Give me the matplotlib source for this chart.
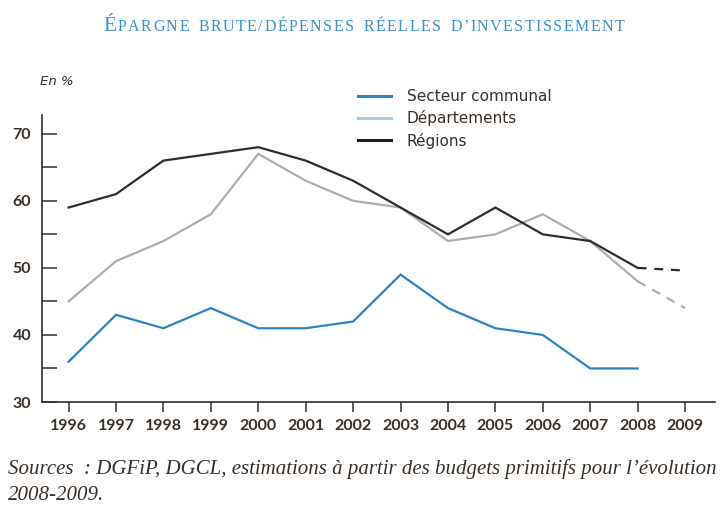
import matplotlib
matplotlib.use("Agg")
import matplotlib.pyplot as plt
from matplotlib.ticker import MultipleLocator
from matplotlib.lines import Line2D

years = [1996, 1997, 1998, 1999, 2000, 2001, 2002, 2003, 2004, 2005, 2006, 2007, 2008]
communal = [36, 43, 41, 44, 41, 41, 42, 49, 44, 41, 40, 35, 35]
departements = [45, 51, 54, 58, 67, 63, 60, 59, 54, 55, 58, 54, 48]
regions = [59, 61, 66, 67, 68, 66, 63, 59, 55, 59, 55, 54, 50]
est_years = [2008, 2009]
departements_est = [48, 44]
regions_est = [50, 49.6]
xtick_labels = [str(y) for y in range(1996, 2010)]
ytick_values = [30, 40, 50, 60, 70]
series_names = ["Secteur communal", "Départements", "Régions"]

BLUE = "#2b84c6"
GREY = "#adadad"
LEG_GREY = "#a7c6e4"
BLACK = "#2e2e2e"
TXT = "#3a3028"
TITLE_C = "#3d8fd0"

plt.rcParams["font.family"] = ["DejaVu Sans"]

fig = plt.figure(figsize=(7.2, 5.08), dpi=100)
ax = fig.add_axes([41.5/720, 1-402/508, (715-41.5)/720, (402-115)/508])

ax.plot(years, communal, color=BLUE, lw=1.6, solid_joinstyle="miter")
ax.plot(years, departements, color=GREY, lw=1.6, solid_joinstyle="miter")
ax.plot(years, regions, color=BLACK, lw=1.6, solid_joinstyle="miter")
ax.plot(est_years, departements_est, color=GREY, lw=1.6, ls=(0, (4, 3.5)))
ax.plot(est_years, regions_est, color=BLACK, lw=1.6, ls=(0, (4, 3.5)))

ax.set_xlim(1995.43, 2009.63)
ax.set_ylim(30, 72.8)

for s in ["top", "right"]:
    ax.spines[s].set_visible(False)
for s in ["left", "bottom"]:
    ax.spines[s].set_color(BLACK)
    ax.spines[s].set_linewidth(1.2)

ax.set_yticks(ytick_values)
ax.set_yticklabels([str(v) for v in ytick_values])
ax.yaxis.set_minor_locator(MultipleLocator(5))
ax.tick_params(axis="y", which="both", direction="in", length=11, width=1.1, color=BLACK,
               labelsize=11.5, labelcolor=TXT, pad=7.5)
ax.set_xticks(list(range(1996, 2010)))
ax.set_xticklabels(xtick_labels)
ax.tick_params(axis="x", direction="out", length=7, width=1.1, color=BLACK,
               labelsize=11.5, labelcolor=TXT, pad=5)
for lab in ax.get_xticklabels() + ax.get_yticklabels():
    lab.set_fontweight("bold")
    lab.set_family(["Lato", "DejaVu Sans"])

handles = [Line2D([], [], color=BLUE, lw=2.2),
           Line2D([], [], color=LEG_GREY, lw=2.2),
           Line2D([], [], color="#1e1e1e", lw=2.2)]
fig.legend(handles, series_names, loc="upper left", bbox_to_anchor=(358/720, 1-89/508),
           bbox_transform=fig.transFigure, frameon=False, borderpad=0, borderaxespad=0,
           fontsize=11, handlelength=2.15, handletextpad=1.05, labelspacing=0.42,
           labelcolor=TXT)

fig.text(40/720, 1-82/508, "En %", fontsize=9.5, style="italic", color=TXT, va="center")

# Title in small caps, with letter spacing
fig.canvas.draw()
renderer = fig.canvas.get_renderer()
ty = 1 - 31/508
x = 103
spacing = 1.5
t = fig.text(x/720, ty, "É", fontsize=15.5, color=TITLE_C, va="baseline",
             family=["Liberation Serif", "DejaVu Serif"])
x = t.get_window_extent(renderer).x1 + spacing
for ch in "PARGNE BRUTE/DÉPENSES RÉELLES D’INVESTISSEMENT":
    if ch == " ":
        x += 8
        continue
    t = fig.text(x/720, ty, ch, fontsize=11.5, color=TITLE_C, va="baseline",
                 family=["Liberation Serif", "DejaVu Serif"])
    x = t.get_window_extent(renderer).x1 + spacing

fig.text(8/720, 1-474/508, "Sources  : DGFiP, DGCL, estimations à partir des budgets primitifs pour l’évolution",
         fontsize=15, style="italic", color=TXT, va="baseline", family=["Liberation Serif", "DejaVu Serif"])
fig.text(8/720, 1-500/508, "2008-2009.", fontsize=15, style="italic", color=TXT, va="baseline",
         family=["Liberation Serif", "DejaVu Serif"])

fig.savefig("out.png", dpi=100)
